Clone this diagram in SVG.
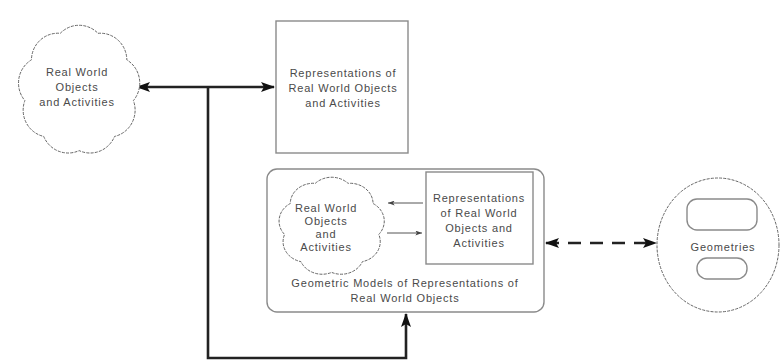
<svg xmlns="http://www.w3.org/2000/svg" xmlns:xlink="http://www.w3.org/1999/xlink" width="780" height="361" viewBox="0 0 780 361">
<style>
  text { font-family: "Liberation Sans", Arial, sans-serif; font-size: 11px; fill: #4a4a4a; text-anchor: middle; letter-spacing: 0.8px; }
  .box { fill: #fff; stroke: #8a8a8a; stroke-width: 1.4; }
  .cloud { fill: #fff; stroke: #666; stroke-width: 1; stroke-dasharray: 3 1.2; }
  .thick { fill: none; stroke: #222; stroke-width: 2.6; }
  .thin { fill: none; stroke: #555; stroke-width: 1; }
</style>
<defs>
  <marker id="ah" viewBox="0 0 14 10" refX="13" refY="5" markerWidth="14" markerHeight="10" markerUnits="userSpaceOnUse" orient="auto-start-reverse">
    <path d="M0,0 L14,5 L0,10 L3,5 Z" fill="#111"/>
  </marker>
  <marker id="ahs" viewBox="0 0 8 6" refX="8" refY="3" markerWidth="7" markerHeight="5" markerUnits="userSpaceOnUse" orient="auto-start-reverse">
    <path d="M0,0 L8,3 L0,6 L2,3 Z" fill="#444"/>
  </marker>
  <path id="cloudshape" vector-effect="non-scaling-stroke" d="M42.7,11.4 A25,25 0 0 1 78.3,11.4 A25,25 0 0 1 105.5,36 A25,25 0 0 1 111.7,73.7 A25,25 0 0 1 93.9,106.9 A25,25 0 0 1 60.5,120 A25,25 0 0 1 27.1,106.9 A25,25 0 0 1 9.3,73.7 A25,25 0 0 1 15.5,36 A25,25 0 0 1 42.7,11.4 Z"/>
</defs>

<g id="connectors">
  <line class="thick" x1="137" y1="87" x2="274" y2="87" marker-start="url(#ah)" marker-end="url(#ah)"/>
  <polyline class="thick" points="208,87 208,358 406,358 406,314" marker-end="url(#ah)"/>
  <line class="thick" x1="546" y1="243" x2="656" y2="243" stroke-dasharray="13 9" marker-start="url(#ah)" marker-end="url(#ah)"/>
</g>

<g id="cloud1">
  <use xlink:href="#cloudshape" class="cloud" transform="translate(15,21) scale(1.06,1.08)"/>
  <text x="77" y="76">Real World</text>
  <text x="77" y="91">Objects</text>
  <text x="77" y="106">and Activities</text>
</g>

<g id="representations">
  <rect class="box" x="276" y="21" width="132" height="132"/>
  <text x="343" y="77">Representations of</text>
  <text x="343" y="92">Real World Objects</text>
  <text x="343" y="107">and Activities</text>
</g>

<g id="geometric-models">
  <rect class="box" x="267" y="169" width="277" height="143" rx="10" ry="10"/>
  <text x="405" y="287">Geometric Models of Representations of</text>
  <text x="405" y="302">Real World Objects</text>
</g>

<g id="inner-cloud">
  <use xlink:href="#cloudshape" class="cloud" transform="translate(276,174) scale(0.92,0.82)"/>
  <text x="326" y="212">Real World</text>
  <text x="326" y="225">Objects</text>
  <text x="326" y="238">and</text>
  <text x="326" y="251">Activities</text>
</g>

<g id="inner-representations">
  <rect class="box" x="426" y="172" width="107" height="92"/>
  <text x="479" y="202">Representations</text>
  <text x="479" y="217">of Real World</text>
  <text x="479" y="232">Objects and</text>
  <text x="479" y="247">Activities</text>
</g>

<g id="inner-connectors">
  <line class="thin" x1="423" y1="203" x2="388" y2="203" marker-end="url(#ahs)"/>
  <line class="thin" x1="387" y1="233" x2="422" y2="233" marker-end="url(#ahs)"/>
</g>

<g id="geometries">
  <ellipse class="cloud" cx="718" cy="245" rx="61" ry="67"/>
  <rect class="box" x="687" y="199" width="70" height="31" rx="10" ry="10" stroke-width="1.2"/>
  <rect class="box" x="697" y="258" width="50" height="21" rx="10" ry="10" stroke-width="1.2"/>
  <text x="723" y="251">Geometries</text>
</g>
</svg>
